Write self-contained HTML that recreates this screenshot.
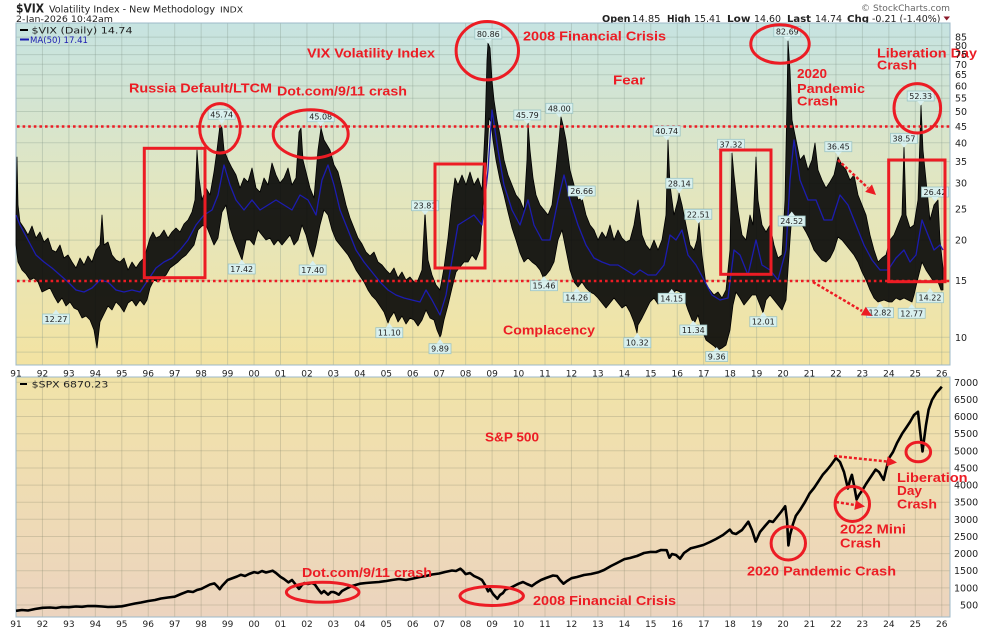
<!DOCTYPE html>
<html><head><meta charset="utf-8"><style>
html,body{margin:0;padding:0;background:#fff;}
svg{display:block;}
.a{font-family:"Liberation Sans",Arial,sans-serif;font-weight:bold;fill:#ec1c24;font-size:13px;}
.t{font-family:"DejaVu Sans","Liberation Sans",sans-serif;fill:#222;}
.lb{font-family:"DejaVu Sans","Liberation Sans",sans-serif;font-size:8px;fill:#222;text-anchor:middle;}
</style></head><body>
<svg width="994" height="632" viewBox="0 0 994 632" xmlns="http://www.w3.org/2000/svg">
<defs>
<linearGradient id="g1" x1="0" y1="23" x2="0" y2="365" gradientUnits="userSpaceOnUse">
<stop offset="0" stop-color="#c6e3e1"/><stop offset="0.5" stop-color="#e3e6bf"/><stop offset="1" stop-color="#f3e3a2"/></linearGradient>
<linearGradient id="g2" x1="0" y1="377" x2="0" y2="617" gradientUnits="userSpaceOnUse">
<stop offset="0" stop-color="#f1e3a8"/><stop offset="1" stop-color="#ecd4bf"/></linearGradient>
</defs>
<rect width="994" height="632" fill="#fff"/>
<!-- header -->
<text class="t" x="16" y="12.5" font-size="12.5" font-weight="bold" textLength="28" lengthAdjust="spacingAndGlyphs">$VIX</text>
<text class="t" x="49" y="12.5" font-size="9.5" textLength="166" lengthAdjust="spacingAndGlyphs">Volatility Index - New Methodology</text>
<text class="t" x="220" y="12.5" font-size="8" textLength="23" lengthAdjust="spacingAndGlyphs">INDX</text>
<text class="t" x="16" y="22" font-size="9" textLength="97" lengthAdjust="spacingAndGlyphs">2-Jan-2026 10:42am</text>
<text class="t" x="861" y="11" font-size="9" fill="#666" style="fill:#666" textLength="89" lengthAdjust="spacingAndGlyphs">© StockCharts.com</text>
<g class="t" font-size="9.5">
<text x="602" y="22" font-weight="bold" textLength="28.5" lengthAdjust="spacingAndGlyphs">Open</text>
<text x="632" y="22" textLength="28.5" lengthAdjust="spacingAndGlyphs">14.85</text>
<text x="667" y="22" font-weight="bold" textLength="23.5" lengthAdjust="spacingAndGlyphs">High</text>
<text x="694" y="22" textLength="27" lengthAdjust="spacingAndGlyphs">15.41</text>
<text x="727" y="22" font-weight="bold" textLength="23.5" lengthAdjust="spacingAndGlyphs">Low</text>
<text x="754" y="22" textLength="27" lengthAdjust="spacingAndGlyphs">14.60</text>
<text x="787" y="22" font-weight="bold" textLength="24" lengthAdjust="spacingAndGlyphs">Last</text>
<text x="815" y="22" textLength="27" lengthAdjust="spacingAndGlyphs">14.74</text>
<text x="847" y="22" font-weight="bold" textLength="22" lengthAdjust="spacingAndGlyphs">Chg</text>
<text x="872" y="22" textLength="68.5" lengthAdjust="spacingAndGlyphs">-0.21 (-1.40%)</text>
</g>
<polygon points="943.5,16.5 950,16.5 946.7,20.5" fill="#8b1a2a"/>

<!-- top panel -->
<rect x="16" y="23" width="934" height="342" fill="url(#g1)"/>
<g stroke="#7f9384" stroke-opacity="0.3" stroke-width="1">
<path d="M16 37.1H950M16 45.6H950M16 54.6H950M16 64.3H950M16 74.7H950M16 85.9H950M16 98.2H950M16 111.5H950M16 126.3H950M16 142.8H950M16 161.6H950M16 183.2H950M16 208.8H950M16 240.1H950M16 280.4H950M16 337.3H950M16 352.1H950"/>
<path d="M42.45 23V365M68.9 23V365M95.35 23V365M121.8 23V365M148.25 23V365M174.7 23V365M201.15 23V365M227.6 23V365M254.05 23V365M280.5 23V365M306.95 23V365M333.4 23V365M359.85 23V365M386.3 23V365M412.75 23V365M439.2 23V365M465.65 23V365M492.1 23V365M518.55 23V365M545 23V365M571.45 23V365M597.9 23V365M624.35 23V365M650.8 23V365M677.25 23V365M703.7 23V365M730.15 23V365M756.6 23V365M783.05 23V365M809.5 23V365M835.95 23V365M862.4 23V365M888.85 23V365M915.3 23V365M941.75 23V365"/>
</g>
<rect x="16" y="23" width="934" height="342" fill="none" stroke="#9cb8c8" stroke-width="1"/>

<!-- VIX band -->
<polygon fill="#050505" fill-opacity="0.9" stroke="#000" stroke-width="0.8" stroke-linejoin="round" points="16,215 17,157 18,205 20,222 24,228 28,235 32,226 36,238 40,232 44,242 48,238 52,250 56,252 60,245 64,258 68,255 72,262 76,268 80,258 84,265 88,256 92,262 96,250 100,245 102,215 104,245 108,242 112,255 116,260 120,262 124,258 128,270 132,262 136,268 140,262 144,258 148,245 150,238 153,232 156,238 160,236 164,230 168,238 172,232 176,228 180,232 184,224 188,220 192,212 195,200 197,150 199,178 202,200 206,188 210,195 214,172 217,150 220,125 222,128 224,150 228,160 232,168 236,175 240,188 244,178 248,182 252,168 256,188 260,192 264,178 268,185 272,163 276,175 280,183 284,178 288,168 292,185 296,178 299,132 301,128 303,160 306,172 310,188 314,198 318,150 321,128 324,140 327,145 330,150 334,165 338,172 342,188 346,205 350,218 354,228 358,238 362,244 366,252 370,256 374,252 378,262 382,265 386,270 390,274 394,268 398,278 402,272 406,280 410,277 414,282 418,280 422,270 425,212 428,260 432,275 436,285 440,290 444,268 448,238 452,200 455,178 458,185 462,175 466,185 470,172 474,185 478,178 482,190 485,130 487,60 488,43 490,48 492,80 494,100 497,120 500,135 504,160 508,175 512,185 516,195 520,200 524,210 527,160 528,123 530,150 533,178 536,195 540,205 544,210 548,215 552,205 556,170 559,140 561,117 563,125 566,140 570,170 574,185 578,200 582,198 586,215 590,225 594,230 598,240 602,232 606,238 610,225 614,240 618,230 622,238 626,242 630,240 634,225 638,200 642,235 646,245 650,250 654,240 658,250 662,240 666,215 668,140 670,185 674,215 678,200 679,193 682,205 686,225 690,245 694,250 697,240 699,222 702,255 706,285 710,290 714,295 718,292 722,298 726,290 730,250 732,153 734,175 738,210 742,235 746,240 750,215 753,225 756,157 758,200 762,225 766,232 770,225 774,245 778,258 782,255 785,200 787,100 788,41 790,70 792,120 796,140 800,160 804,155 808,170 812,160 815,143 818,170 822,180 826,188 830,182 834,175 838,157 842,165 846,170 850,180 854,175 858,195 862,205 866,215 870,235 874,250 878,262 882,258 886,255 890,240 894,235 898,225 902,215 904,145 906,215 910,228 914,225 918,200 921,105 923,150 926,180 930,220 934,205 938,200 940,240 943,268 943,290 941,290 938,282 934,282 930,276 926,270 922,262 918,278 914,295 912,302 908,300 904,298 900,300 896,298 892,302 889,302 884,300 878,302 874,298 870,290 866,280 862,272 858,262 854,255 850,250 846,245 842,240 838,237 834,250 830,258 826,262 822,260 818,255 814,250 810,240 806,232 802,225 798,220 794,215 792,213 790,240 788,270 786,300 782,310 778,305 774,300 770,295 766,300 763,313 760,305 756,295 752,295 748,300 744,305 740,298 736,292 733,305 730,330 726,345 722,348 718,350 714,346 710,343 706,340 702,330 698,315 695,322 692,320 688,310 684,298 680,292 676,290 672,296 670,292 666,300 662,298 658,304 654,298 650,302 646,310 642,318 638,325 637,333 634,322 630,312 626,305 622,308 618,303 614,298 610,303 606,308 602,303 598,298 594,294 590,292 586,288 582,282 578,287 574,282 570,270 566,250 562,230 558,240 554,262 550,270 546,275 543,277 540,270 536,265 532,262 528,258 524,262 520,253 516,240 512,228 508,212 504,195 500,180 496,160 493,140 491,122 489,118 486,175 483,205 480,250 476,260 472,255 468,262 464,262 460,267 456,272 452,288 448,305 444,320 441,335 440,337 437,330 434,320 430,318 426,310 422,320 418,326 414,320 410,318 406,324 402,316 398,322 394,312 390,318 388,323 384,312 380,306 376,300 372,296 368,290 364,282 360,276 356,270 352,262 348,255 344,250 340,245 336,240 332,230 328,215 324,210 320,225 316,245 313,257 310,250 306,235 302,225 298,240 294,245 290,235 286,240 282,245 278,240 274,245 270,238 266,240 262,235 258,230 254,245 250,240 246,240 242,260 238,250 234,240 230,228 226,205 222,212 218,238 214,245 210,235 206,225 202,226 198,230 194,245 190,250 186,255 182,258 178,262 174,265 170,268 166,275 162,278 158,282 154,280 150,288 147,300 144,305 140,300 136,306 132,300 128,303 124,312 120,306 116,302 112,310 108,306 104,314 100,322 97,348 94,330 90,320 86,316 82,318 78,310 74,308 70,302 66,306 62,298 58,303 54,296 50,288 46,290 42,292 38,282 34,278 30,280 26,274 22,270 18,262 16,245"/>
<!-- MA(50) -->
<polyline fill="none" stroke="#1c1cb0" stroke-width="1.3" stroke-linejoin="round" points="16,215 20,225 28,240 36,255 44,262 52,268 60,275 68,282 76,290 84,292 92,288 100,280 108,282 116,290 124,292 132,290 140,292 148,280 156,268 164,262 172,258 180,250 188,240 196,225 204,215 212,210 218,195 224,165 230,185 236,200 244,210 252,200 260,210 268,205 276,200 284,205 292,210 300,195 308,200 316,215 322,180 328,165 334,185 340,210 348,230 356,250 364,262 372,272 380,282 388,290 396,295 404,298 412,300 420,302 426,290 432,300 440,315 446,295 452,260 458,225 466,220 474,215 482,225 488,170 492,110 498,150 504,185 512,210 520,225 528,200 534,225 542,240 550,240 558,200 564,175 570,200 578,225 586,245 594,258 602,262 610,265 618,265 626,270 634,275 640,270 648,275 656,275 664,265 670,235 676,240 682,230 688,255 696,265 704,280 712,295 720,300 728,298 734,250 740,255 748,275 756,240 762,265 770,270 778,280 786,250 790,180 794,140 800,180 808,200 816,200 824,220 832,220 840,195 848,205 856,225 864,245 872,260 880,270 888,270 896,258 904,250 910,262 916,255 922,220 928,235 934,250 940,245 943,250"/>

<!-- dotted lines -->
<g stroke="#ec1c24" stroke-width="2.6" stroke-dasharray="2.6 3">
<line x1="17" y1="126.5" x2="950" y2="126.5"/>
<line x1="17" y1="281" x2="950" y2="281"/>
</g>

<!-- value labels top -->
<g>
<g fill="#d9f0ee" stroke="#9cc4c4" stroke-width="0.8">
<rect x="208.2" y="109.3" width="27" height="10"/><rect x="307.2" y="111.7" width="27" height="10"/><rect x="411.5" y="200.7" width="27" height="10"/><rect x="474.8" y="29" width="27" height="10"/><rect x="513.8" y="110" width="27" height="10"/><rect x="545.8" y="103.3" width="27" height="10"/><rect x="568.2" y="186" width="27" height="10"/><rect x="653.2" y="126" width="27" height="10"/><rect x="665.8" y="178.3" width="27" height="10"/><rect x="684.8" y="209.3" width="27" height="10"/><rect x="717.5" y="139.3" width="27" height="10"/><rect x="773.8" y="26.7" width="27" height="10"/><rect x="824.8" y="141.7" width="27" height="10"/><rect x="890.5" y="133.3" width="27" height="10"/><rect x="907.2" y="91" width="27" height="10"/><rect x="921.5" y="187" width="27" height="10"/>
<rect x="42.5" y="314" width="27" height="10"/><rect x="228.2" y="264" width="27" height="10"/><rect x="299.2" y="265" width="27" height="10"/><rect x="375.8" y="327.7" width="27" height="10"/><rect x="429" y="343.7" width="22" height="10"/><rect x="530.5" y="280.7" width="27" height="10"/><rect x="563.2" y="292.3" width="27" height="10"/><rect x="623.8" y="337.7" width="27" height="10"/><rect x="658.2" y="293.3" width="27" height="10"/><rect x="679.8" y="325" width="27" height="10"/><rect x="705.7" y="351.5" width="22" height="10"/><rect x="749.8" y="316.7" width="27" height="10"/><rect x="778.2" y="216" width="27" height="10"/><rect x="866.5" y="307.7" width="27" height="10"/><rect x="898.2" y="308.3" width="27" height="10"/><rect x="916.5" y="292.7" width="27" height="10"/>
</g>
<g fill="#d9f0ee">
<polygon points="218.2,119.3 225.2,119.3 221.7,124"/><polygon points="317.2,121.7 324.2,121.7 320.7,126.5"/><polygon points="421.5,210.7 428.5,210.7 425,215"/><polygon points="484.8,39 491.8,39 488.3,43.5"/><polygon points="523.8,120 530.8,120 527.3,124"/><polygon points="555.8,113.3 562.8,113.3 559.3,117.5"/><polygon points="578.2,196 585.2,196 581.7,200.5"/><polygon points="663.2,136 670.2,136 666.7,140.5"/><polygon points="675.8,188.3 682.8,188.3 679.3,193"/><polygon points="694.8,219.3 701.8,219.3 698.3,223.5"/><polygon points="727.5,149.3 734.5,149.3 731,153.5"/><polygon points="783.8,36.7 790.8,36.7 787.3,41"/><polygon points="834.8,151.7 841.8,151.7 838.3,156"/><polygon points="900.5,143.3 907.5,143.3 904,147.5"/><polygon points="917.2,101 924.2,101 920.7,105.5"/><polygon points="931.5,197 938.5,197 935,201.5"/>
<polygon points="52.5,314 59.5,314 56,309.5"/><polygon points="238.2,264 245.2,264 241.7,259.5"/><polygon points="309.2,265 316.2,265 312.7,260.5"/><polygon points="385.8,327.7 392.8,327.7 389.3,323"/><polygon points="436.5,343.7 443.5,343.7 440,339"/><polygon points="540.5,280.7 547.5,280.7 544,276"/><polygon points="573.2,292.3 580.2,292.3 576.7,288"/><polygon points="633.8,337.7 640.8,337.7 637.3,333"/><polygon points="668.2,293.3 675.2,293.3 671.7,289"/><polygon points="689.8,325 696.8,325 693.3,320.5"/><polygon points="713.2,351.5 720.2,351.5 716.7,347"/><polygon points="759.8,316.7 766.8,316.7 763.3,312"/><polygon points="788.2,216 795.2,216 791.7,211.5"/><polygon points="876.5,307.7 883.5,307.7 880,303"/><polygon points="908.2,308.3 915.2,308.3 911.7,304"/><polygon points="926.5,292.7 933.5,292.7 930,288"/>
</g>
<g class="lb">
<text x="221.7" y="117.3">45.74</text><text x="320.7" y="119.7">45.08</text><text x="425" y="208.7">23.81</text><text x="488.3" y="37">80.86</text><text x="527.3" y="118">45.79</text><text x="559.3" y="111.3">48.00</text><text x="581.7" y="194">26.66</text><text x="666.7" y="134">40.74</text><text x="679.3" y="186.3">28.14</text><text x="698.3" y="217.3">22.51</text><text x="731" y="147.3">37.32</text><text x="787.3" y="34.7">82.69</text><text x="838.3" y="149.7">36.45</text><text x="904" y="141.3">38.57</text><text x="920.7" y="99">52.33</text><text x="935" y="195">26.42</text>
<text x="56" y="322">12.27</text><text x="241.7" y="272">17.42</text><text x="312.7" y="273">17.40</text><text x="389.3" y="335.7">11.10</text><text x="440" y="351.7">9.89</text><text x="544" y="288.7">15.46</text><text x="576.7" y="300.3">14.26</text><text x="637.3" y="345.7">10.32</text><text x="671.7" y="301.3">14.15</text><text x="693.3" y="333">11.34</text><text x="716.7" y="359.5">9.36</text><text x="763.3" y="324.7">12.01</text><text x="791.7" y="224">24.52</text><text x="880" y="315.7">12.82</text><text x="911.7" y="316.3">12.77</text><text x="930" y="300.7">14.22</text>
</g>
</g>

<!-- legend top -->
<line x1="20" y1="30" x2="28" y2="30" stroke="#000" stroke-width="2"/>
<text class="t" x="31.5" y="33.3" font-size="9" textLength="101" lengthAdjust="spacingAndGlyphs">$VIX (Daily) 14.74</text>
<line x1="20" y1="39.5" x2="29" y2="39.5" stroke="#1c1cb0" stroke-width="2"/>
<text class="t" x="30" y="42.8" font-size="9" style="fill:#1c1cb0" textLength="58" lengthAdjust="spacingAndGlyphs">MA(50) 17.41</text>

<!-- red shapes top -->
<g fill="none" stroke="#ec1c24" stroke-width="3">
<ellipse cx="220" cy="128.3" rx="20.3" ry="24.7"/>
<ellipse cx="310.7" cy="134" rx="37.5" ry="24.2"/>
<ellipse cx="487.3" cy="50.7" rx="31.2" ry="29.2"/>
<ellipse cx="780" cy="44" rx="29.2" ry="19.2"/>
<ellipse cx="917.3" cy="108.3" rx="23.3" ry="24.7"/>
<rect x="144.3" y="148.3" width="60.7" height="129.4"/>
<rect x="435" y="164" width="50" height="104"/>
<rect x="720.7" y="150" width="50.3" height="124.3"/>
<rect x="888.7" y="160" width="56.3" height="121.7"/>
</g>
<g stroke="#ec1c24" stroke-width="2.5" stroke-dasharray="3 2" fill="none">
<line x1="838" y1="160" x2="868" y2="188"/>
<line x1="813" y1="282" x2="862" y2="311"/>
</g>
<g fill="#ec1c24">
<polygon points="876,195 865.2,191.9 872,184.5"/>
<polygon points="872,316 860.8,315.3 865.8,306.7"/>
</g>

<!-- annotations top -->
<g class="a">
<text x="307" y="57.5" textLength="128" lengthAdjust="spacingAndGlyphs">VIX Volatility Index</text>
<text x="523" y="40.5" textLength="143" lengthAdjust="spacingAndGlyphs">2008 Financial Crisis</text>
<text x="613" y="84.5" textLength="32" lengthAdjust="spacingAndGlyphs">Fear</text>
<text x="129" y="92.5" textLength="143" lengthAdjust="spacingAndGlyphs">Russia Default/LTCM</text>
<text x="277" y="95.5" textLength="130" lengthAdjust="spacingAndGlyphs">Dot.com/9/11 crash</text>
<text x="503" y="334.5" textLength="92" lengthAdjust="spacingAndGlyphs">Complacency</text>
<text x="797" y="78" textLength="30" lengthAdjust="spacingAndGlyphs">2020</text>
<text x="797" y="92.8" textLength="68" lengthAdjust="spacingAndGlyphs">Pandemic</text>
<text x="797" y="105.5" textLength="41" lengthAdjust="spacingAndGlyphs">Crash</text>
<text x="877" y="57.5" textLength="100" lengthAdjust="spacingAndGlyphs">Liberation Day</text>
<text x="877" y="69.5" textLength="40" lengthAdjust="spacingAndGlyphs">Crash</text>
</g>

<!-- top y labels -->
<g class="t" font-size="9.5">
<text x="955" y="40.6">85</text><text x="955" y="49.1">80</text><text x="955" y="58.1">75</text><text x="955" y="67.8">70</text><text x="955" y="78.2">65</text><text x="955" y="89.4">60</text><text x="955" y="101.7">55</text><text x="955" y="115">50</text><text x="955" y="129.8">45</text><text x="955" y="146.3">40</text><text x="955" y="165.1">35</text><text x="955" y="186.7">30</text><text x="955" y="212.3">25</text><text x="955" y="243.6">20</text><text x="955" y="283.9">15</text><text x="955" y="340.8">10</text>
</g>

<!-- x labels top row -->
<g class="t" font-size="9" text-anchor="middle">
<text x="16" y="376.5">91</text><text x="42.45" y="376.5">92</text><text x="68.9" y="376.5">93</text><text x="95.35" y="376.5">94</text><text x="121.8" y="376.5">95</text><text x="148.25" y="376.5">96</text><text x="174.7" y="376.5">97</text><text x="201.15" y="376.5">98</text><text x="227.6" y="376.5">99</text><text x="254.05" y="376.5">00</text><text x="280.5" y="376.5">01</text><text x="306.95" y="376.5">02</text><text x="333.4" y="376.5">03</text><text x="359.85" y="376.5">04</text><text x="386.3" y="376.5">05</text><text x="412.75" y="376.5">06</text><text x="439.2" y="376.5">07</text><text x="465.65" y="376.5">08</text><text x="492.1" y="376.5">09</text><text x="518.55" y="376.5">10</text><text x="545" y="376.5">11</text><text x="571.45" y="376.5">12</text><text x="597.9" y="376.5">13</text><text x="624.35" y="376.5">14</text><text x="650.8" y="376.5">15</text><text x="677.25" y="376.5">16</text><text x="703.7" y="376.5">17</text><text x="730.15" y="376.5">18</text><text x="756.6" y="376.5">19</text><text x="783.05" y="376.5">20</text><text x="809.5" y="376.5">21</text><text x="835.95" y="376.5">22</text><text x="862.4" y="376.5">23</text><text x="888.85" y="376.5">24</text><text x="915.3" y="376.5">25</text><text x="941.75" y="376.5">26</text>
</g>

<!-- bottom panel -->
<rect x="16" y="377" width="934" height="240" fill="url(#g2)"/>
<g stroke="#8a8a70" stroke-opacity="0.3" stroke-width="1">
<path d="M16 382.3H950M16 399.4H950M16 416.5H950M16 433.7H950M16 450.8H950M16 468H950M16 485.1H950M16 502.2H950M16 519.3H950M16 536.5H950M16 553.6H950M16 570.7H950M16 587.9H950M16 605H950"/>
<path d="M42.45 377V617M68.9 377V617M95.35 377V617M121.8 377V617M148.25 377V617M174.7 377V617M201.15 377V617M227.6 377V617M254.05 377V617M280.5 377V617M306.95 377V617M333.4 377V617M359.85 377V617M386.3 377V617M412.75 377V617M439.2 377V617M465.65 377V617M492.1 377V617M518.55 377V617M545 377V617M571.45 377V617M597.9 377V617M624.35 377V617M650.8 377V617M677.25 377V617M703.7 377V617M730.15 377V617M756.6 377V617M783.05 377V617M809.5 377V617M835.95 377V617M862.4 377V617M888.85 377V617M915.3 377V617M941.75 377V617"/>
</g>
<rect x="16" y="377" width="934" height="240" fill="none" stroke="#9cb8c8" stroke-width="1"/>

<polyline fill="none" stroke="#000" stroke-width="2.6" stroke-linejoin="round" points="16,610.8 22,610 28,610.5 35,609 42.5,607.8 50,607.5 56,608 62,607 68.9,607.2 76,606.5 82,606.8 88,606 95.4,606.1 102,606.5 108,607 115,606.8 121.8,606.3 128,605 135,603.5 141,602.5 148.3,601 155,600 161,598.5 168,597.5 174.7,596.7 181,594 187.9,591.3 193,592 197,590 201.2,588.9 205,587 210,584.5 214.4,583.4 217,586 219.7,589.2 222,586 227.6,580 233,578 237,576.5 240.8,574.8 245,576 249,574 254.1,572.1 258,573 262,571 266,572.5 272.6,570.7 276,573 280.5,576.9 284,579 288.4,582.4 292,580 296,585 299,588.9 302,585 304.3,583 308,584 312,583 314.8,584.4 318,589 321.4,593.3 324,591 328.1,594.7 331,592 333.4,592 336,593 338.7,594.7 342,591 346.6,588.5 352,586 359.9,583.7 366,583 372,582.5 379,582 386.3,581 392,580 399,579 406,580 412.8,578.6 420,577 426,576 432,574.5 439.2,573.5 445,572 452,570.5 456,571 460.4,568.7 463,571 465.7,574.1 470,573 474,576 478.9,578.2 482,580 485,585 488.1,591.3 490,589 493,594 497.4,598.8 500,595 503,593 505.3,589.6 510,588 514,586 518.6,583.7 523,582 527,584 531.8,586.1 536,583 541,580 546,578 553,575.5 557,576 560,580 563.5,583.7 567,581 571.5,578.2 577,577 584,575 591,574 597.9,572.4 604,570 611,566 617,563 624.4,559.1 630,558 637,556 644,553 650.8,551.9 656,552 661,550 666.7,550.2 669.4,557.7 672,554 676,555 680,558.7 684,553 690.5,548.4 696,547 703.3,545 710,542 716,539 723,535 729.8,529.6 732.4,533 736,534 742,530 748.3,521.7 752,530 755.7,541.6 760,532 765,526 769.4,521 773,522 777,517 781,512 785.2,506.3 787,520 788.4,545.4 790,535 793,524 795.8,515.9 800,510 805,502 809.5,493.6 814,488 818,482 822.7,474.8 827,470 831,465 836,458 840,462 844,472 847.9,488.5 850,480 851.9,474.8 854,485 856.6,499.5 859,495 862.4,490.2 866,484 870,478 875.6,469.6 879,472 883.6,479.9 886,470 888.9,458.3 893,452 897,443 902.1,433.7 906,428 910,422 914,415 918,411.8 920,430 922.5,451.5 924,440 926,425 928.6,409.7 932,400 936.5,392.6 939,390 941.8,386.7"/>

<line x1="20" y1="384" x2="27" y2="384" stroke="#000" stroke-width="2"/>
<text class="t" x="31.7" y="387.5" font-size="9" textLength="76.6" lengthAdjust="spacingAndGlyphs">$SPX 6870.23</text>

<!-- red shapes bottom -->
<g fill="none" stroke="#ec1c24" stroke-width="3">
<ellipse cx="322.7" cy="592.3" rx="36.3" ry="10"/>
<ellipse cx="491.7" cy="596" rx="31.7" ry="9.5"/>
<ellipse cx="788.3" cy="543.3" rx="17.2" ry="16.7"/>
<ellipse cx="852.3" cy="504" rx="17.2" ry="17.5"/>
<ellipse cx="918.3" cy="452" rx="12.3" ry="9.8"/>
</g>
<g stroke="#ec1c24" stroke-width="2.5" stroke-dasharray="3 2" fill="none">
<line x1="834" y1="456" x2="887" y2="461.5"/>
<line x1="836" y1="502" x2="855" y2="505"/>
</g>
<g fill="#ec1c24">
<polygon points="897,462.5 886.5,466.5 887.5,456.5"/>
<polygon points="865,506.5 854.3,509.9 855.9,500.1"/>
</g>
<g class="a">
<text x="485" y="441.5" textLength="54" lengthAdjust="spacingAndGlyphs">S&amp;P 500</text>
<text x="302" y="576.8" textLength="130" lengthAdjust="spacingAndGlyphs">Dot.com/9/11 crash</text>
<text x="533" y="605" textLength="143" lengthAdjust="spacingAndGlyphs">2008 Financial Crisis</text>
<text x="747" y="575.5" textLength="149" lengthAdjust="spacingAndGlyphs">2020 Pandemic Crash</text>
<text x="840" y="533.5" textLength="66" lengthAdjust="spacingAndGlyphs">2022 Mini</text>
<text x="840" y="547.5" textLength="41" lengthAdjust="spacingAndGlyphs">Crash</text>
<text x="897" y="481.8" textLength="70.6" lengthAdjust="spacingAndGlyphs">Liberation</text>
<text x="897" y="495.2" textLength="25" lengthAdjust="spacingAndGlyphs">Day</text>
<text x="897" y="508.5" textLength="40" lengthAdjust="spacingAndGlyphs">Crash</text>
</g>

<!-- bottom y labels -->
<g class="t" font-size="9.5">
<text x="954" y="385.8">7000</text><text x="954" y="402.9">6500</text><text x="954" y="420">6000</text><text x="954" y="437.2">5500</text><text x="954" y="454.3">5000</text><text x="954" y="471.5">4500</text><text x="954" y="488.6">4000</text><text x="954" y="505.7">3500</text><text x="954" y="522.8">3000</text><text x="954" y="540">2500</text><text x="954" y="557.1">2000</text><text x="954" y="574.2">1500</text><text x="954" y="591.4">1000</text><text x="960" y="608.5">500</text>
</g>

<!-- x labels bottom row -->
<g class="t" font-size="9" text-anchor="middle">
<text x="16" y="627">91</text><text x="42.45" y="627">92</text><text x="68.9" y="627">93</text><text x="95.35" y="627">94</text><text x="121.8" y="627">95</text><text x="148.25" y="627">96</text><text x="174.7" y="627">97</text><text x="201.15" y="627">98</text><text x="227.6" y="627">99</text><text x="254.05" y="627">00</text><text x="280.5" y="627">01</text><text x="306.95" y="627">02</text><text x="333.4" y="627">03</text><text x="359.85" y="627">04</text><text x="386.3" y="627">05</text><text x="412.75" y="627">06</text><text x="439.2" y="627">07</text><text x="465.65" y="627">08</text><text x="492.1" y="627">09</text><text x="518.55" y="627">10</text><text x="545" y="627">11</text><text x="571.45" y="627">12</text><text x="597.9" y="627">13</text><text x="624.35" y="627">14</text><text x="650.8" y="627">15</text><text x="677.25" y="627">16</text><text x="703.7" y="627">17</text><text x="730.15" y="627">18</text><text x="756.6" y="627">19</text><text x="783.05" y="627">20</text><text x="809.5" y="627">21</text><text x="835.95" y="627">22</text><text x="862.4" y="627">23</text><text x="888.85" y="627">24</text><text x="915.3" y="627">25</text><text x="941.75" y="627">26</text>
</g>
</svg>
</body></html>
